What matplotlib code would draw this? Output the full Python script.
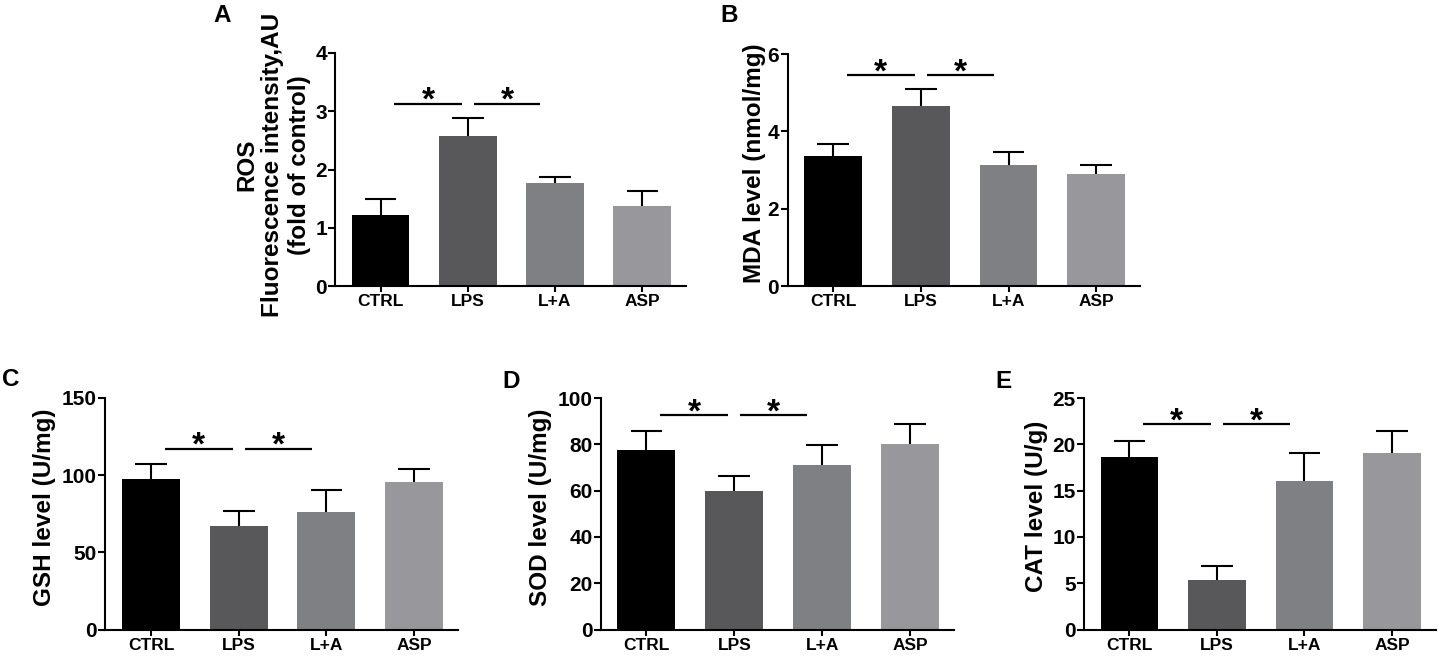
import matplotlib
matplotlib.use("Agg")
import matplotlib.pyplot as plt
import numpy as np

plt.rcParams['font.family'] = ['Liberation Sans', 'DejaVu Sans']
plt.rcParams['font.weight'] = 'bold'

groups = ["CTRL", "LPS", "L+A", "ASP"]
bar_colors = ["#000000", "#58585a", "#7f8084", "#98989c"]

ros_mean = [1.22, 2.57, 1.77, 1.37]
ros_err = [0.27, 0.31, 0.10, 0.26]
ros_sig = 3.13
ros_ticks = [0, 1, 2, 3, 4]

mda_mean = [3.37, 4.65, 3.13, 2.90]
mda_err = [0.30, 0.44, 0.34, 0.24]
mda_sig = 5.46
mda_ticks = [0, 2, 4, 6]

gsh_mean = [97.2, 67.1, 76.4, 95.5]
gsh_err = [10.0, 9.5, 13.7, 8.8]
gsh_sig = 117.2
gsh_ticks = [0, 50, 100, 150]

sod_mean = [77.7, 60.0, 71.0, 80.3]
sod_err = [8.1, 6.1, 8.6, 8.5]
sod_sig = 92.5
sod_ticks = [0, 20, 40, 60, 80, 100]

cat_mean = [18.58, 5.31, 16.04, 19.01]
cat_err = [1.76, 1.50, 2.97, 2.44]
cat_sig = 22.17
cat_ticks = [0, 5, 10, 15, 20, 25]

W, H = 1438, 657
fig = plt.figure(figsize=(W / 100, H / 100), dpi=100)

def px_axes(left, top, width, bottom):
    return fig.add_axes([left / W, 1 - bottom / H, width / W, (bottom - top) / H])

def panel(ax, means, errs, sig, ticks, ylabel, label_x, label_y=0.53):
    x = np.arange(len(groups))
    ax.bar(x, means, width=0.66, color=bar_colors, zorder=2)
    tops = np.array(means) + np.array(errs)
    ax.vlines(x, means, tops, color="black", lw=1.5, zorder=3)
    ax.hlines(tops, x - 0.18, x + 0.18, color="black", lw=1.5, zorder=3)
    # significance lines
    for a, b in [(0.155, 0.93), (1.07, 1.83)]:
        ax.plot([a, b], [sig, sig], color="black", lw=1.6, solid_capstyle="butt",
                clip_on=False)
        ax.annotate("*", xy=((a + b) / 2, sig), xytext=(0, -4.5),
                    textcoords="offset points", ha="center", va="baseline",
                    fontsize=24, fontweight="bold", annotation_clip=False)
    ax.set_xlim(-0.52, 3.5)
    ax.set_ylim(0, ticks[-1])
    ax.set_yticks(ticks)
    ax.set_xticks(x)
    ax.set_xticklabels(groups, fontsize=12.5, fontweight="bold")
    for t in ax.get_yticklabels():
        t.set_fontsize(15)
        t.set_fontweight("bold")
    ax.spines["top"].set_visible(False)
    ax.spines["right"].set_visible(False)
    ax.spines["left"].set_linewidth(1.5)
    ax.spines["bottom"].set_linewidth(1.5)
    ax.tick_params(axis="y", length=5, width=1.5, pad=1)
    ax.tick_params(axis="x", length=4, width=1.5, pad=1.8)
    ax.set_ylabel(ylabel, fontsize=17.5, fontweight="bold", va="center",
                  ha="center", linespacing=1.2)
    ax.yaxis.set_label_coords(label_x, label_y)

axA = px_axes(335.3, 53, 350.5, 286)
panel(axA, ros_mean, ros_err, ros_sig, ros_ticks,
      "ROS\nFluorescence intensity,AU\n(fold of control)", (273 - 335.3) / 350.5, 0.52)

axB = px_axes(787.5, 54, 352.6, 286)
panel(axB, mda_mean, mda_err, mda_sig, mda_ticks,
      "MDA level (nmol/mg)", (754 - 787.5) / 352.6, 0.53)

axC = px_axes(105.4, 398, 352.6, 629.5)
panel(axC, gsh_mean, gsh_err, gsh_sig, gsh_ticks,
      "GSH level (U/mg)", (45 - 105.4) / 352.6, 0.53)

axD = px_axes(600.8, 398, 353.0, 629.5)
panel(axD, sod_mean, sod_err, sod_sig, sod_ticks,
      "SOD level (U/mg)", (541 - 600.8) / 353.0, 0.53)

axE = px_axes(1083.9, 398, 351.8, 629.5)
panel(axE, cat_mean, cat_err, cat_sig, cat_ticks,
      "CAT level (U/g)", (1036 - 1083.9) / 351.8, 0.53)

for letter, (px, py) in zip("ABCDE", [(222, 16), (729, 15), (11, 380), (511, 381), (1004, 381)]):
    fig.text(px / W, 1 - py / H, letter, fontsize=17.5, fontweight="bold",
             ha="center", va="center")

fig.savefig("out.png", dpi=100)
